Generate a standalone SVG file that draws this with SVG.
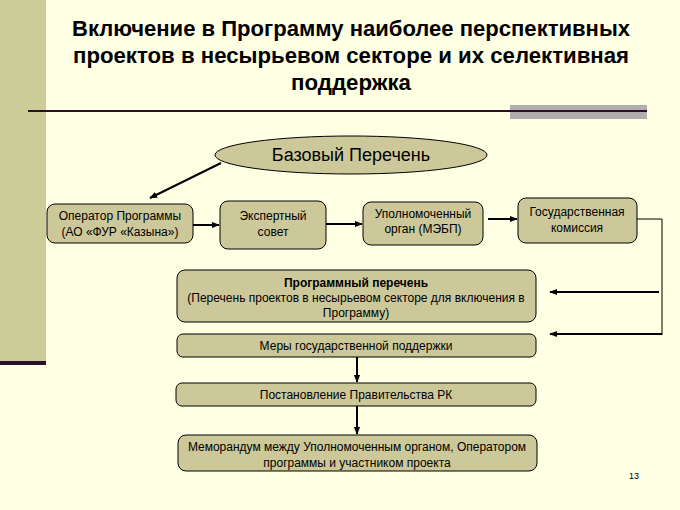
<svg xmlns="http://www.w3.org/2000/svg" width="680" height="510" viewBox="0 0 680 510">
<defs>
<marker id="ah" viewBox="0 0 10 10" refX="9" refY="5" markerWidth="4" markerHeight="4" orient="auto" markerUnits="strokeWidth">
<path d="M0,1 L10,5 L0,9 z" fill="#000"/>
</marker>
<style>
.box{fill:#CCC899;stroke:#000;stroke-width:1}
.t{font-family:"Liberation Sans",Arial,sans-serif;font-size:12px;fill:#000;text-anchor:middle}
.title{font-family:"Liberation Sans",Arial,sans-serif;font-size:22px;font-weight:bold;fill:#000;text-anchor:middle}
.c{stroke:#000;stroke-width:2;fill:none}
.c1{stroke:#000;stroke-width:1;fill:none}
</style>
</defs>
<rect x="0" y="0" width="680" height="510" fill="#FFFFE3"/>
<rect x="0" y="0" width="46" height="361" fill="#CCCC99"/>
<rect x="0" y="361" width="46" height="4" fill="#2A0F2A"/>
<rect x="510" y="105" width="137" height="14" fill="#B0ADAE"/>
<line x1="28" y1="111" x2="647" y2="111" stroke="#2A0F2A" stroke-width="2"/>
<g id="title">
<text class="title" x="351" y="36" textLength="558" lengthAdjust="spacingAndGlyphs">Включение в Программу наиболее перспективных</text>
<text class="title" x="351" y="63" textLength="556" lengthAdjust="spacingAndGlyphs">проектов в несырьевом секторе и их селективная</text>
<text class="title" x="351" y="90" textLength="120" lengthAdjust="spacingAndGlyphs">поддержка</text>
</g>
<g id="connectors">
<line class="c" x1="221" y1="163" x2="150" y2="198" marker-end="url(#ah)"/>
<line class="c" x1="193" y1="225" x2="219" y2="225" marker-end="url(#ah)"/>
<line class="c" x1="326" y1="224" x2="362" y2="224" marker-end="url(#ah)"/>
<line class="c" x1="488" y1="219" x2="517" y2="219" marker-end="url(#ah)"/>
<polyline class="c1" points="637,219 662,219 662,335"/>
<line class="c" x1="659" y1="292" x2="550" y2="292" marker-end="url(#ah)"/>
<line class="c" x1="662" y1="334" x2="550" y2="334" marker-end="url(#ah)"/>
<line class="c" x1="357" y1="357" x2="357" y2="382" marker-end="url(#ah)"/>
<line class="c" x1="357" y1="406" x2="357" y2="434" marker-end="url(#ah)"/>
</g>
<g id="bazovy">
<ellipse class="box" cx="351" cy="155" rx="136" ry="19"/>
<text class="t" x="351" y="161" style="font-size:18px">Базовый Перечень</text>
</g>
<g id="operator">
<rect class="box" x="47" y="204" width="146" height="39" rx="8"/>
<text class="t" x="120" y="220">Оператор Программы</text>
<text class="t" x="120" y="236">(АО «ФУР «Казына»)</text>
</g>
<g id="expert">
<rect class="box" x="220" y="201" width="106" height="48" rx="8"/>
<text class="t" x="273" y="220">Экспертный</text>
<text class="t" x="273" y="236">совет</text>
</g>
<g id="upoln">
<rect class="box" x="363" y="202" width="120" height="43" rx="8"/>
<text class="t" x="423" y="218">Уполномоченный</text>
<text class="t" x="423" y="233">орган (МЭБП)</text>
</g>
<g id="goskom">
<rect class="box" x="518" y="198" width="119" height="45" rx="8"/>
<text class="t" x="577" y="216">Государственная</text>
<text class="t" x="577" y="232">комиссия</text>
</g>
<g id="programmny">
<rect class="box" x="177" y="270" width="359" height="52" rx="8"/>
<text class="t" x="356" y="287" style="font-weight:bold">Программный перечень</text>
<text class="t" x="356" y="302">(Перечень проектов в несырьевом секторе для включения в</text>
<text class="t" x="356" y="317">Программу)</text>
</g>
<g id="mery">
<rect class="box" x="177" y="334" width="359" height="23" rx="6"/>
<text class="t" x="356" y="350">Меры государственной поддержки</text>
</g>
<g id="postanovlenie">
<rect class="box" x="176" y="383" width="360" height="23" rx="6"/>
<text class="t" x="356" y="399">Постановление Правительства РК</text>
</g>
<g id="memorandum">
<rect class="box" x="178" y="435" width="359" height="36" rx="8"/>
<text class="t" x="357" y="451">Меморандум между Уполномоченным органом, Оператором</text>
<text class="t" x="357" y="467">программы и участником проекта</text>
</g>
<text class="t" x="634" y="479" style="font-size:9px">13</text>
</svg>
